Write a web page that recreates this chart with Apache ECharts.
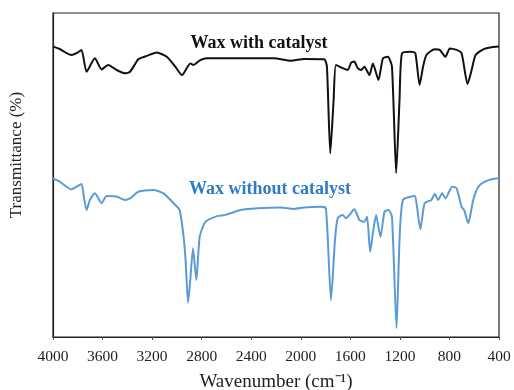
<!DOCTYPE html>
<html>
<head>
<meta charset="utf-8">
<script src="https://cdn.jsdelivr.net/npm/echarts@6/dist/echarts.min.js"></script>
<style>html,body{margin:0;padding:0;background:#fff}#c{width:514px;height:390px}</style>
</head>
<body>
<div id="c"></div>
<script>
// Wavenumbers (cm-1) and transmittance (arbitrary, offset)
const withWave = [4000,3946,3851,3810,3770,3729,3662,3608,3554,3486,3419,3378,3311,3243,3162,3081,3013,2959,2892,2865,2811,2756,2216,2081,1973,1811,1789,1762,1735,1716,1662,1621,1594,1568,1540,1513,1487,1446,1418,1373,1337,1297,1264,1230,1203,1183,1108,1075,1041,1013,986,919,878,832,797,743,702,654,621,589,527,459,400];
const withT = [96.8,96.0,94.0,94.6,95.7,88.4,92.9,89.2,90.7,89.0,87.9,88.4,92.6,93.7,94.8,93.4,90.1,87.3,91.2,90.7,92.3,92.9,92.9,92.1,92.7,92.6,90.1,61.2,79.0,90.7,89.6,89.0,91.4,91.8,89.6,89.0,90.1,87.3,91.2,85.7,92.9,93.4,90.1,54.6,79.0,94.6,95.1,94.6,84.0,90.1,94.0,95.9,95.7,93.4,96.2,95.7,94.6,84.3,89.0,94.0,95.9,96.6,96.8];
const withoutWave = [4000,3946,3851,3810,3770,3751,3729,3702,3662,3608,3567,3486,3419,3378,3311,3189,3108,3027,2978,2946,2930,2910,2892,2870,2843,2816,2770,2675,2608,2486,2351,2162,2054,1973,1838,1797,1756,1724,1702,1662,1635,1608,1568,1527,1487,1465,1440,1418,1392,1357,1324,1292,1264,1227,1203,1175,1081,1062,1035,1000,946,919,891,859,832,778,743,702,681,648,608,567,514,459,400];
const withoutT = [52.9,51.8,49.2,50.1,51.0,46.8,42.3,45.7,47.9,44.6,47.0,46.8,45.7,46.2,48.4,49.0,47.9,44.6,42.3,33.4,25.7,11.4,19.0,29.6,19.0,33.4,38.4,40.3,40.7,42.3,42.9,43.2,42.7,43.2,43.4,42.9,12.3,32.3,39.6,40.7,39.6,40.7,42.6,39.0,38.4,40.1,28.4,34.6,40.7,33.4,41.8,42.3,40.1,2.9,32.3,45.7,47.0,43.4,35.9,44.6,45.7,47.7,45.7,47.9,46.2,50.1,49.6,43.4,42.3,37.9,45.7,50.1,51.8,52.6,52.9];
const xTicks = [4000,3600,3200,2800,2400,2000,1600,1200,800,400];
const seriesNames = ['Wax with catalyst','Wax without catalyst'];
const yTitle = 'Transmittance (%)';

const zip = (a,b) => a.map((v,i)=>[v,b[i]]);
const serif = '"Liberation Serif","Times New Roman",serif';
const chart = echarts.init(document.getElementById('c'), null, {renderer:'canvas'});
chart.setOption({
  animation:false,
  grid:{left:53,right:15,top:13,bottom:53,show:true,borderColor:'#222',borderWidth:1.2,
    containLabel:false,outerBoundsMode:'none'},
  xAxis:{type:'value',inverse:true,min:400,max:4000,interval:400,
    name:'Wavenumber (cm\u207B\u00B9)',nameLocation:'middle',nameGap:36,
    nameTextStyle:{fontFamily:serif,fontSize:19,color:'#222'},
    axisLine:{lineStyle:{color:'#222',width:1.2}},
    axisTick:{show:true,length:3,lineStyle:{color:'#555'}},
    axisLabel:{fontFamily:serif,fontSize:15.5,color:'#222',margin:12,
      formatter:v=>xTicks.includes(v)?String(v):''},
    splitLine:{show:false}},
  yAxis:{type:'value',min:0,max:108,
    axisLine:{show:true,lineStyle:{color:'#222',width:1.2}},
    axisTick:{show:false},axisLabel:{show:false},splitLine:{show:false}},
  graphic:[
    {type:'text',x:17,y:155,rotation:Math.PI/2,style:{text:yTitle,fontFamily:serif,fontSize:17,fill:'#222',align:'center',verticalAlign:'middle'}},
    {type:'text',x:259,y:43,style:{text:seriesNames[0],fontFamily:serif,fontWeight:'bold',fontSize:18,fill:'#111',align:'center',verticalAlign:'middle'}},
    {type:'text',x:270,y:189,style:{text:seriesNames[1],fontFamily:serif,fontWeight:'bold',fontSize:18,fill:'#2E7CC4',align:'center',verticalAlign:'middle'}}
  ],
  series:[
    {name:seriesNames[0],type:'line',data:zip(withWave,withT),showSymbol:false,smooth:0.2,
      lineStyle:{color:'#111',width:2}},
    {name:seriesNames[1],type:'line',data:zip(withoutWave,withoutT),showSymbol:false,smooth:0.2,
      lineStyle:{color:'#5B9BD5',width:2}}
  ]
});
</script>
</body>
</html>
